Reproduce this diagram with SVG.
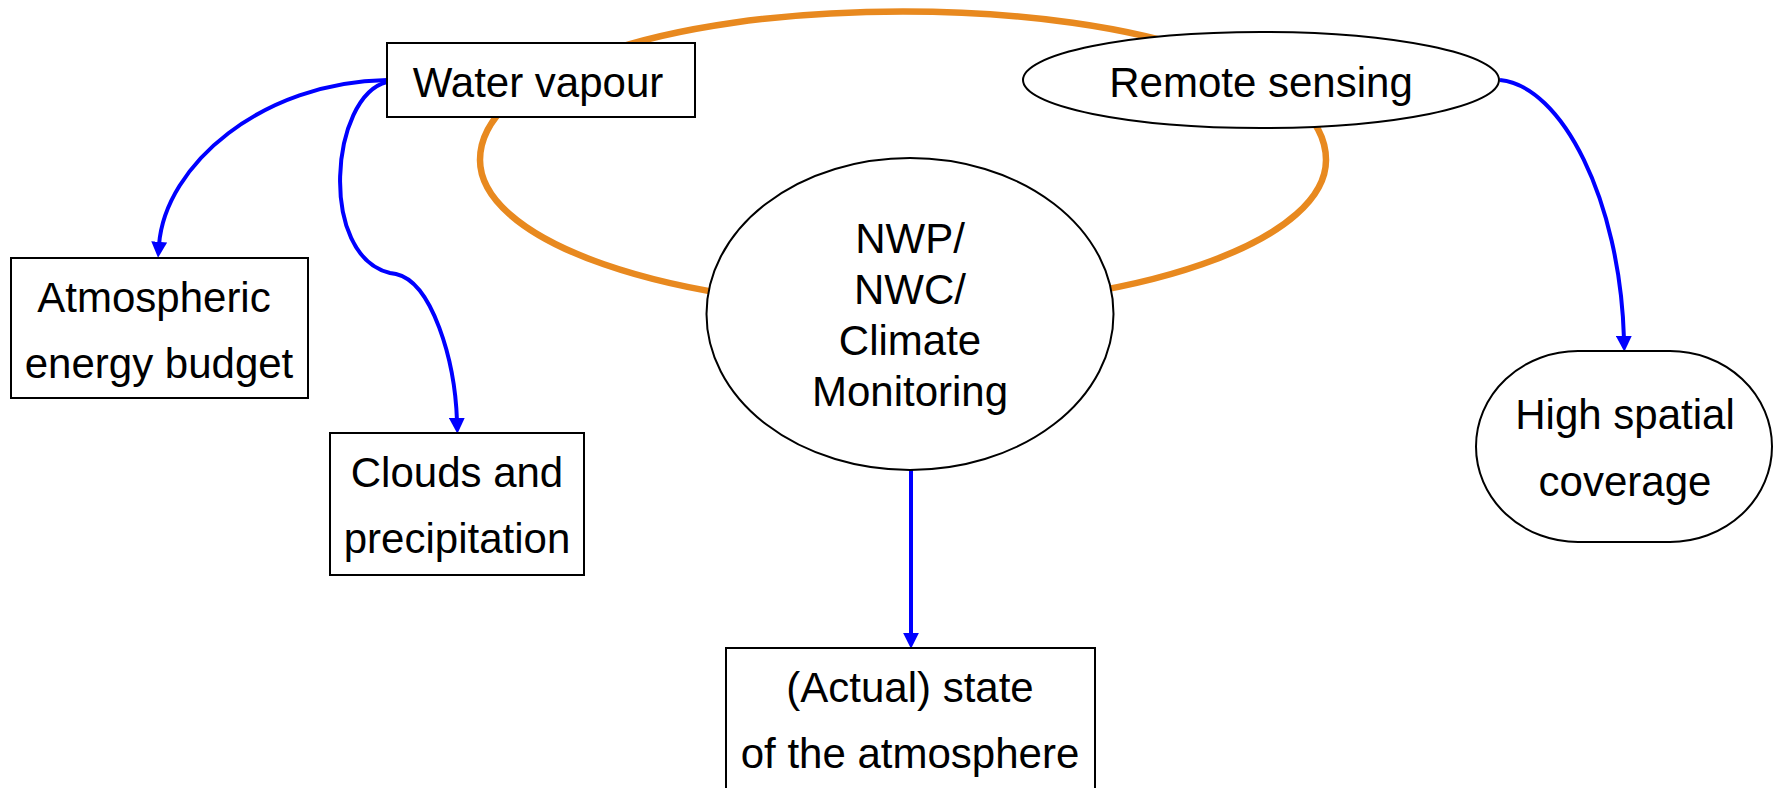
<svg xmlns="http://www.w3.org/2000/svg" width="1774" height="788" viewBox="0 0 1774 788">
<style>
.node{fill:#fff;stroke:#000;stroke-width:2}
.lbl{font-family:"Liberation Sans",Arial,sans-serif;font-size:42px;fill:#000;text-anchor:middle}
.blue{fill:none;stroke:#0000FF;stroke-width:4}
.loop{fill:none;stroke:#E8891F;stroke-width:6.5}
</style>
<defs>
<marker id="arr" markerUnits="userSpaceOnUse" markerWidth="16" markerHeight="16" viewBox="0 0 15 15" refX="3" refY="7.5" orient="auto">
<path d="M0,0 L15,7.5 L0,15 z" fill="#0000FF"/>
</marker>
</defs>
<g id="connectors">
<path class="loop" d="M480,160 C480,74.5 657.7,11.5 903,11.5 C1148.3,11.5 1326,74.5 1326,160 A423,147.5 0 0 1 480,160 Z"/>
<path class="blue" marker-end="url(#arr)" d="M387,80 C262,82 165,165 159,245"/>
<path class="blue" marker-end="url(#arr)" d="M387,82 C330,96 318,256 390,273 L396,274 C432,282 455,360 457,421"/>
<path class="blue" marker-end="url(#arr)" d="M1500,80 C1562,86 1620,200 1624,339"/>
<path class="blue" marker-end="url(#arr)" d="M911,470 L911,636"/>
</g>
<g id="water-vapour">
<rect class="node" x="387" y="43" width="308" height="74"/>
<text class="lbl" x="538" y="97">Water vapour</text>
</g>
<g id="remote-sensing">
<ellipse class="node" cx="1261" cy="80" rx="238" ry="48"/>
<text class="lbl" x="1261" y="97">Remote sensing</text>
</g>
<g id="nwp">
<ellipse class="node" cx="910" cy="314" rx="203.5" ry="156"/>
<text class="lbl" x="910" y="253">NWP/</text>
<text class="lbl" x="910" y="304">NWC/</text>
<text class="lbl" x="910" y="355">Climate</text>
<text class="lbl" x="910" y="406">Monitoring</text>
</g>
<g id="atmospheric">
<rect class="node" x="11" y="258" width="297" height="140"/>
<text class="lbl" x="154" y="312">Atmospheric</text>
<text class="lbl" x="159" y="378">energy budget</text>
</g>
<g id="clouds">
<rect class="node" x="330" y="433" width="254" height="142"/>
<text class="lbl" x="457" y="487">Clouds and</text>
<text class="lbl" x="457" y="553">precipitation</text>
</g>
<g id="high-spatial">
<rect class="node" x="1476" y="351" width="296" height="191" rx="102" ry="95.5"/>
<text class="lbl" x="1625" y="429">High spatial</text>
<text class="lbl" x="1625" y="496">coverage</text>
</g>
<g id="actual-state">
<rect class="node" x="726" y="648" width="369" height="150"/>
<text class="lbl" x="910" y="702">(Actual) state</text>
<text class="lbl" x="910" y="768">of the atmosphere</text>
</g>
</svg>
